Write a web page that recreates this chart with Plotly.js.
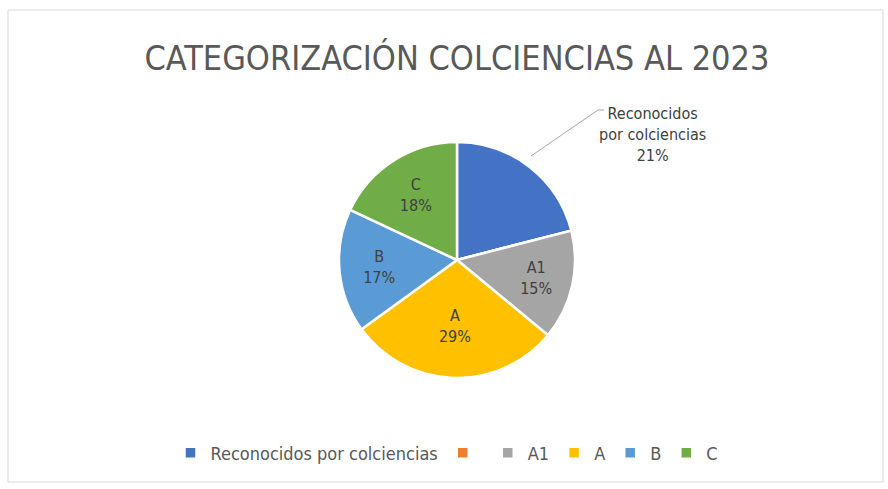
<!DOCTYPE html>
<html><head><meta charset="utf-8">
<script src="https://cdn.plot.ly/plotly-3.0.1.min.js"></script>
<style>html,body{margin:0;padding:0;background:#fff}#c{width:888px;height:489px}</style>
</head><body><div id="c"></div>
<script>
const labels = ["Reconocidos por colciencias", "\u200b", "A1", "A", "B", "C"];
const values = [21, 0, 15, 29, 17, 18];
const sliceText = ["", "", "A1<br>15%", "A<br>29%", "B<br>17%", "C<br>18%"];
const colors = ["#4472C4", "#ED7D31", "#A5A5A5", "#FFC000", "#5B9BD5", "#70AD47"];
const W = 888, H = 489;
const px = x => x / W, py = y => 1 - y / H;
const font = "DejaVu Sans Condensed, Liberation Sans Narrow, sans-serif";

Plotly.newPlot("c", [{
  type: "pie",
  labels: labels,
  values: values,
  text: sliceText,
  textinfo: "text",
  textposition: "inside",
  insidetextorientation: "horizontal",
  insidetextfont: {family: font, size: 16, color: "#404040"},
  sort: false,
  direction: "clockwise",
  rotation: 0,
  marker: {colors: colors, line: {color: "#ffffff", width: 2.5}},
  domain: {x: [px(339), px(575)], y: [py(378), py(142)]},
  hoverinfo: "label+percent"
}], {
  width: W, height: H,
  margin: {l: 0, r: 0, t: 0, b: 0},
  paper_bgcolor: "#ffffff",
  showlegend: true,
  title: {text: "CATEGORIZACIÓN COLCIENCIAS AL 2023", x: px(457), xanchor: "center", y: py(58), yanchor: "middle",
          font: {family: font, size: 34, color: "#595959"}},
  legend: {orientation: "h", x: px(447), xanchor: "center", y: py(453), yanchor: "middle",
           font: {family: font, size: 18, color: "#595959"}, itemwidth: 30, traceorder: "normal"},
  shapes: [
    {type: "rect", xref: "paper", yref: "paper", x0: px(8), x1: px(883), y0: py(482), y1: py(10),
     line: {color: "#d9d9d9", width: 1}},
    {type: "line", xref: "paper", yref: "paper", x0: px(531), y0: py(156), x1: px(598), y1: py(110),
     line: {color: "#a6a6a6", width: 1}},
    {type: "line", xref: "paper", yref: "paper", x0: px(598), y0: py(110), x1: px(604), y1: py(110),
     line: {color: "#a6a6a6", width: 1}}
  ],
  annotations: [
    {xref: "paper", yref: "paper", x: px(652), y: py(134), xanchor: "center", yanchor: "middle",
     text: "Reconocidos<br>por colciencias<br>21%", showarrow: false,
     font: {family: font, size: 16, color: "#404040"}}
  ]
}, {displayModeBar: false, staticPlot: true});
</script></body></html>
